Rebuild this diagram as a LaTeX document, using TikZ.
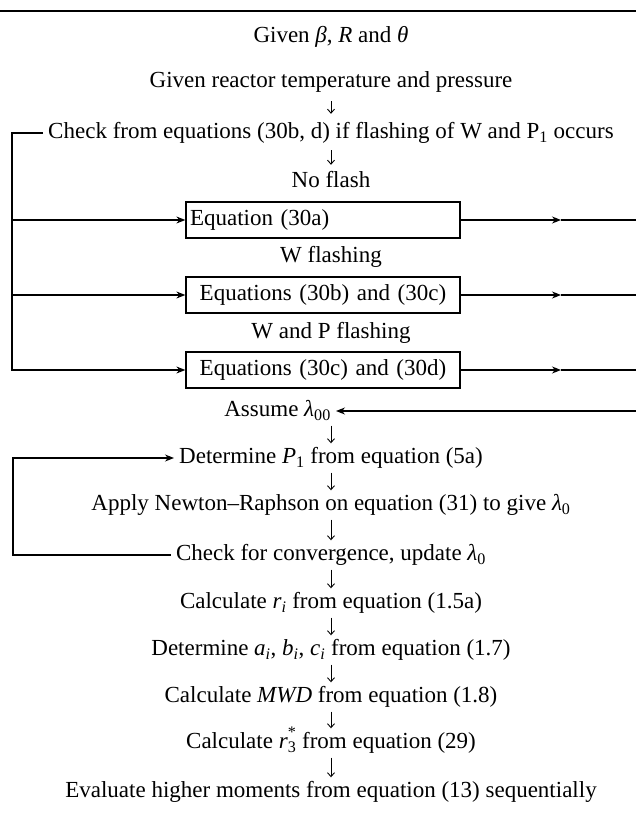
\documentclass[tikz,border=0pt]{standalone}
\usepackage{fontspec}
\setmainfont{Liberation Serif}
\usetikzlibrary{arrows.meta}
\begin{document}
\begin{tikzpicture}[x=1pt,y=-1pt,
  txt/.style={inner xsep=5pt, inner ysep=0pt, text height=15pt, text depth=4pt,
              font=\fontsize{23}{27}\selectfont},
  eqbox/.style={draw, line width=1.3pt, minimum width=274pt, minimum height=36pt,
              inner xsep=4pt, inner ysep=0pt, text width=266pt, text height=15pt, text depth=4pt,
              font=\fontsize{23}{27}\selectfont},
  conn/.style={line width=1.2pt},
  tipS/.style={-{Stealth[length=9pt,width=7pt]}},
  dn/.style={line width=0.9pt, -{Straight Barb[length=4pt,width=7pt]}, shorten <=#1, shorten >=#1}
]
\useasboundingbox (0,0) rectangle (636,813);
% top rule
\coordinate (ruleL) at (0,11);
\coordinate (ruleR) at (636,11);
\draw[line width=1.5pt] (ruleL) -- (ruleR);

% helper x positions
\coordinate (lx) at (12,0);
\coordinate (lx2) at (13,0);
\coordinate (rx) at (636,0);
\coordinate (mx) at (561,0);

% text nodes
\node[txt] (given1) at (331,37) {Given \textit{β}, \textit{R} and \textit{θ}};
\node[txt] (given2) at (331,82) {Given reactor temperature and pressure};
\node[txt] (check) at (331,133) {Check from equations (30b, d) if flashing of W and P\textsubscript{1} occurs};
\node[txt] (noflash) at (331,182) {No flash};
\node[eqbox, align=left] (box1) at (323,220) {Equation (30a)};
\node[txt] (wflash) at (331,257) {W flashing};
\node[eqbox, align=center] (box2) at (323,295) {Equations (30b) and (30c)};
\node[txt] (wpflash) at (331,333) {W and P flashing};
\node[eqbox, align=center] (box3) at (323,370) {Equations (30c) and (30d)};
\node[txt, anchor=east] (assume) at (336,411) {Assume \textit{λ}\textsubscript{00}};
\node[txt] (det) at (331,458) {Determine \textit{P}\textsubscript{1} from equation (5a)};
\node[txt] (apply) at (331,505) {Apply Newton–Raphson on equation (31) to give \textit{λ}\textsubscript{0}};
\node[txt] (conv) at (331,555) {Check for convergence, update \textit{λ}\textsubscript{0}};
\node[txt] (calcr) at (331,603) {Calculate \textit{r\textsubscript{i}} from equation (1.5a)};
\node[txt] (detabc) at (331,650) {Determine \textit{a\textsubscript{i}}, \textit{b\textsubscript{i}}, \textit{c\textsubscript{i}} from equation (1.7)};
\node[txt] (mwd) at (331,697) {Calculate \textit{MWD} from equation (1.8)};
\node[txt] (r3) at (331,743) {Calculate \textit{r}\makebox[0pt][l]{\raisebox{2pt}{\textsuperscript{*}}}\textsubscript{3} from equation (29)};
\node[txt] (eval) at (331,792) {Evaluate higher moments from equation (13) sequentially};

% short down arrows
\draw[dn=9.5pt] (given2) -- (check);
\draw[dn=7.5pt] (check) -- (noflash);
\draw[dn=5pt] (assume.south -| det.north) -- (det.north);
\draw[dn=5pt] (det) -- (apply);
\draw[dn=5pt] (apply) -- (conv);
\draw[dn=5pt] (conv) -- (calcr);
\draw[dn=5pt] (calcr) -- (detabc);
\draw[dn=5pt] (detabc) -- (mwd);
\draw[dn=5pt] (mwd) -- (r3);
\draw[dn=5pt] (r3) -- (eval);

% left branching bracket
\draw[conn, tipS] (check.west) -| (box3.west -| lx) -- (box3.west);
\draw[conn, tipS] (box1.west -| lx) -- (box1.west);
\draw[conn, tipS] (box2.west -| lx) -- (box2.west);

% right outgoing lines, arrowhead midway
\draw[conn, tipS] (box1.east) -- (box1.east -| mx);
\draw[conn] (box1.east -| mx) -- (box1.east -| rx);
\draw[conn, tipS] (box2.east) -- (box2.east -| mx);
\draw[conn] (box2.east -| mx) -- (box2.east -| rx);
\draw[conn, tipS] (box3.east) -- (box3.east -| mx);
\draw[conn] (box3.east -| mx) -- (box3.east -| rx);
\draw[conn, tipS] (assume.east -| rx) -- (assume.east);

% iteration loop
\draw[conn, tipS] (conv.west) -| (det.west -| lx2) -- (det.west);
\end{tikzpicture}
\end{document}
